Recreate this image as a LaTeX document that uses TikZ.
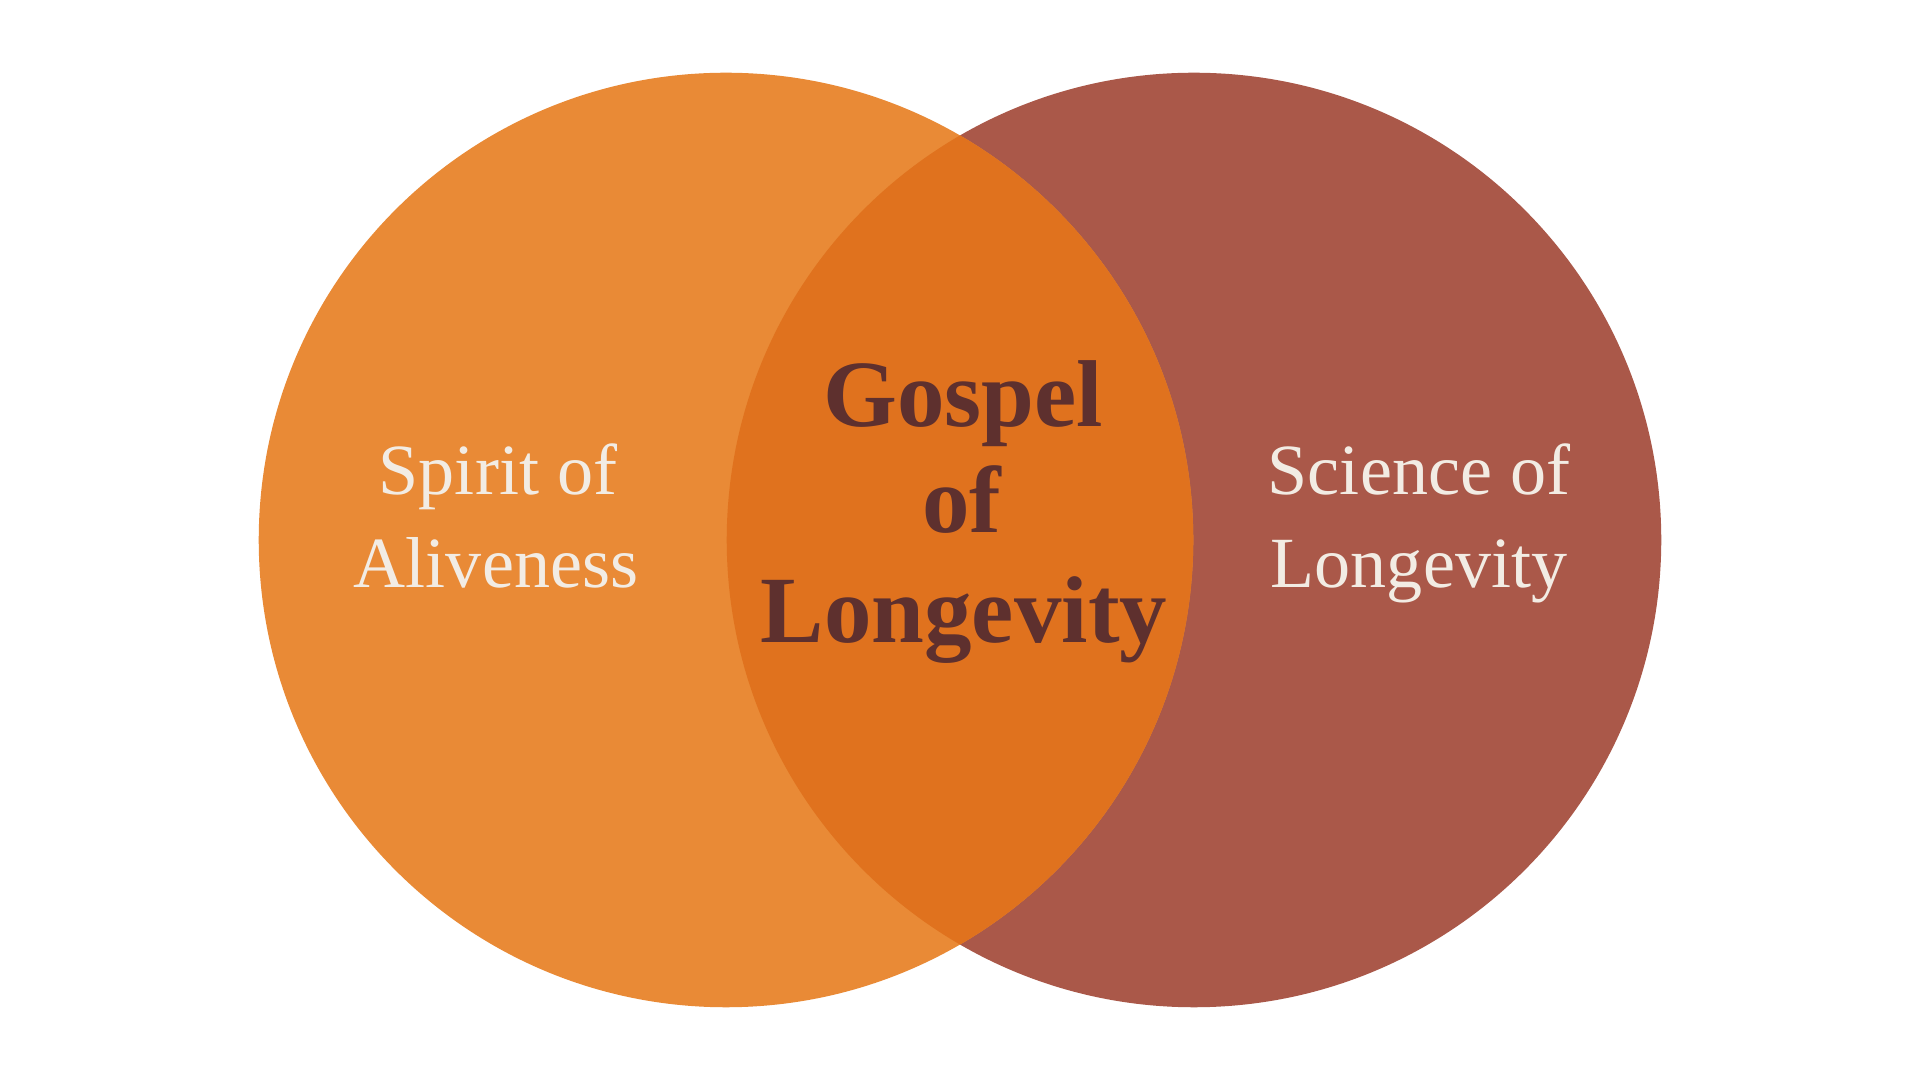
\documentclass[tikz,border=0pt]{standalone}
\usepackage{fontspec}
\setmainfont{Liberation Serif}
\usetikzlibrary{positioning}
\definecolor{spiritc}{HTML}{E98A36}
\definecolor{sciencec}{HTML}{AA5849}
\definecolor{gospelc}{HTML}{E0721E}
\definecolor{lightt}{HTML}{F2ECE4}
\definecolor{darkt}{HTML}{5E302E}
\tikzset{
  side/.style={lightt,anchor=base,inner sep=0pt,font=\fontsize{20.5}{24}\selectfont},
  mid/.style={darkt,anchor=base,inner sep=0pt,font=\fontsize{27}{32}\selectfont\bfseries}
}

\begin{document}
\begin{tikzpicture}[x=0.01cm,y=-0.01cm]
\useasboundingbox[fill=white] (0,0) rectangle (1920,1080);
\fill[sciencec] (1194,540) circle (4.67cm);
\fill[spiritc] (726,540) circle (4.67cm);
\begin{scope}
 \clip (726,540) circle (4.67cm);
 \fill[gospelc] (1194,540) circle (4.67cm);
\end{scope}
\node[side] (spirit1) at (498,495) {Spirit of};
\node[side] (spirit2) at (496,588) {Aliveness};
\node[side] (science1) at (1419,495) {Science of};
\node[side] (science2) at (1419,588) {Longevity};
\node[mid] (gospel1) at (963,427) {Gospel};
\node[mid] (gospel2) at (962,533) {of};
\node[mid] (gospel3) at (964,643) {Longevity};
\end{tikzpicture}
\end{document}
